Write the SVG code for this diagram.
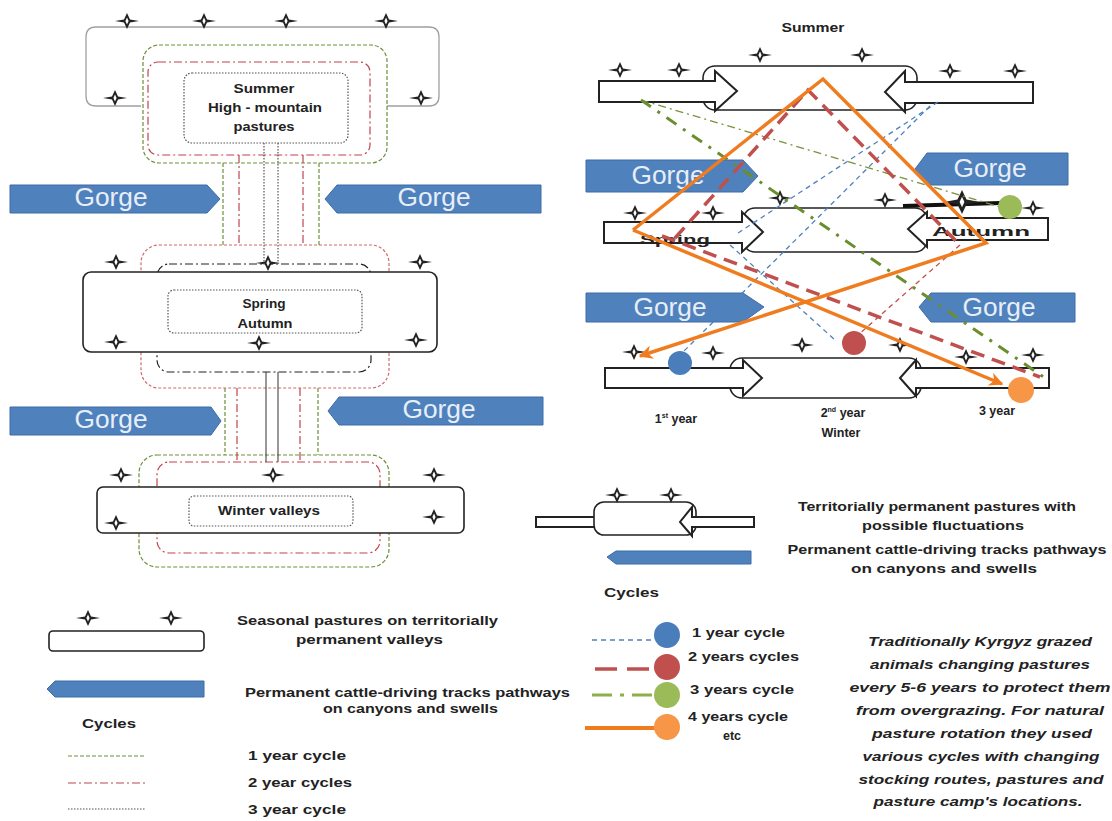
<svg xmlns="http://www.w3.org/2000/svg" xmlns:xlink="http://www.w3.org/1999/xlink" width="1112" height="821" viewBox="0 0 1112 821">
<style>
.t{font-family:"Liberation Sans",Arial,sans-serif;font-weight:bold;fill:#222;font-size:12.5px}
.it{font-style:italic}
.g{font-family:"Liberation Sans",Arial,sans-serif;font-size:25px;fill:#e8eef7;text-anchor:middle}
.mid{text-anchor:middle}
.gorge{fill:#4f81bd;stroke:#3d6ca6;stroke-width:1}
.box{fill:#fff;stroke:#222;stroke-width:1.6}
.pipe{fill:#fff;stroke:#222;stroke-width:2}
.grn{fill:none;stroke:#6f8f3a;stroke-width:1.2;stroke-dasharray:4 2}
.red{fill:none;stroke:#c0444a;stroke-width:1.2;stroke-dasharray:8 3 2 3}
.reds{fill:none;stroke:#d06a6a;stroke-width:1.2;stroke-dasharray:3 2}
.bdd{fill:none;stroke:#222;stroke-width:1.2;stroke-dasharray:8 3 2 3}
.dot{fill:none;stroke:#555;stroke-width:1.2;stroke-dasharray:1.5 1.5}
.c1{fill:none;stroke:#4f81bd;stroke-width:1.3;stroke-dasharray:5 4}
.c2{fill:none;stroke:#c0504d;stroke-width:3.5;stroke-dasharray:14 8}
.c2t{fill:none;stroke:#c0504d;stroke-width:1.3;stroke-dasharray:5 4}
.c3{fill:none;stroke:#6a8e2e;stroke-width:3;stroke-dasharray:12 8 3 8}
.c3t{fill:none;stroke:#77933c;stroke-width:1.3;stroke-dasharray:8 4 2 4}
.c4{fill:none;stroke:#f07c20;stroke-width:3.5}
</style>
<defs>
<g id="st"><path d="M-12,0 L-3,-1.6 L0,-8 L3,-1.6 L12,0 L3,1.6 L0,8 L-3,1.6 Z" fill="#222"/><path d="M0,-3.5 L1.6,0 L0,3.5 L-1.6,0 Z" fill="#fff"/></g>
<marker id="ao" viewBox="0 0 10 10" refX="9" refY="5" markerWidth="16" markerHeight="14" markerUnits="userSpaceOnUse" orient="auto"><path d="M0,0 L10,5 L0,10 L3,5 Z" fill="#f07c20"/></marker>
</defs>
<rect width="1112" height="821" fill="#fff"/>

<!-- LEFT DIAGRAM -->
<g id="summer-left">
<path d="M141,106 H96 Q86,106 86,96 V37 Q86,27 96,27 H429 Q439,27 439,37 V96 Q439,106 429,106 H387" fill="none" stroke="#a0a0a0" stroke-width="1.3"/>
<rect class="grn" x="143" y="45" width="244" height="118" rx="16"/>
<rect class="red" x="148" y="62" width="222" height="93" rx="10"/>
<rect class="dot" x="184" y="73" width="164" height="70" rx="8"/>
<text class="t mid" x="264" y="93" textLength="61" lengthAdjust="spacingAndGlyphs">Summer</text>
<text class="t mid" x="265" y="112" textLength="114" lengthAdjust="spacingAndGlyphs">High - mountain</text>
<text class="t mid" x="264" y="131" textLength="61" lengthAdjust="spacingAndGlyphs">pastures</text>
<use href="#st" x="127" y="21"/><use href="#st" x="204" y="21"/><use href="#st" x="286" y="21"/><use href="#st" x="386" y="21"/>
<use href="#st" x="115" y="98"/><use href="#st" x="421" y="98"/>
</g>

<g id="spring-autumn-left">
<rect class="reds" x="141" y="245" width="248" height="143" rx="18"/>
<rect class="bdd" x="157" y="264" width="214" height="108" rx="12"/>
<rect class="box" x="83" y="272" width="354" height="80" rx="8"/>
<rect class="dot" x="168" y="290" width="194" height="43" rx="6"/>
<text class="t mid" x="264" y="308" textLength="43" lengthAdjust="spacingAndGlyphs">Spring</text>
<text class="t mid" x="265" y="328" textLength="55" lengthAdjust="spacingAndGlyphs">Autumn</text>
<use href="#st" x="116" y="262"/><use href="#st" x="268" y="263"/><use href="#st" x="420" y="262"/>
<use href="#st" x="116" y="342"/><use href="#st" x="259" y="343"/><use href="#st" x="416" y="340"/>
</g>

<g id="winter-left">
<rect class="grn" x="139" y="455" width="250" height="112" rx="18"/>
<rect class="red" x="157" y="462" width="223" height="91" rx="12"/>
<rect class="box" x="97" y="487" width="367" height="46" rx="6"/>
<rect class="dot" x="189" y="496" width="164" height="30" rx="5"/>
<text class="t mid" x="269" y="515" textLength="102" lengthAdjust="spacingAndGlyphs">Winter valleys</text>
<use href="#st" x="121" y="475"/><use href="#st" x="273" y="475"/><use href="#st" x="434" y="475"/>
<use href="#st" x="116" y="523"/><use href="#st" x="434" y="517"/>
</g>

<g id="gorges-left">
<polygon class="gorge" points="10,185 207,185 220,199 207,213 10,213"/>
<text class="g" x="111" y="206" textLength="73" lengthAdjust="spacingAndGlyphs">Gorge</text>
<polygon class="gorge" points="325,199 337,185 541,185 541,213 337,213"/>
<text class="g" x="434" y="206" textLength="73" lengthAdjust="spacingAndGlyphs">Gorge</text>
<polygon class="gorge" points="10,407 211,407 221,421 211,435 10,435"/>
<text class="g" x="111" y="428" textLength="73" lengthAdjust="spacingAndGlyphs">Gorge</text>
<polygon class="gorge" points="328,411 339,397 543,397 543,425 339,425"/>
<text class="g" x="439" y="418" textLength="73" lengthAdjust="spacingAndGlyphs">Gorge</text>
</g>

<g id="connectors-left">
<line class="grn" x1="223" y1="163" x2="223" y2="245"/>
<line class="grn" x1="319" y1="163" x2="319" y2="245"/>
<line class="red" x1="239" y1="155" x2="239" y2="245"/>
<line class="red" x1="303" y1="155" x2="303" y2="245"/>
<line class="dot" x1="264" y1="143" x2="264" y2="264" stroke="#222"/>
<line class="dot" x1="278" y1="143" x2="278" y2="264" stroke="#222"/>
<line class="grn" x1="225" y1="388" x2="225" y2="455"/>
<line class="grn" x1="318" y1="388" x2="318" y2="455"/>
<line class="red" x1="237" y1="388" x2="237" y2="462"/>
<line class="red" x1="300" y1="388" x2="300" y2="462"/>
<line x1="266" y1="372" x2="266" y2="462" stroke="#333" stroke-width="1"/>
<line x1="278" y1="372" x2="278" y2="462" stroke="#333" stroke-width="1"/>
</g>

<!-- RIGHT DIAGRAM -->
<g id="row-summer">
<text class="t mid" x="813" y="32" textLength="63" lengthAdjust="spacingAndGlyphs">Summer</text>
<rect class="box" x="703" y="66" width="214" height="44" rx="12"/>
<polygon class="pipe" points="599,81 715,81 715,71 737,91 715,111 715,102 599,102"/>
<polygon class="pipe" points="1033,82 905,82 905,71 885,92 905,112 905,103 1033,103"/>
<use href="#st" x="620" y="70"/><use href="#st" x="679" y="70"/><use href="#st" x="760" y="55"/><use href="#st" x="862" y="55"/><use href="#st" x="950" y="71"/><use href="#st" x="1015" y="71"/>
</g>

<g id="row-spring-autumn">
<rect class="box" x="743" y="208" width="184" height="44" rx="12"/>
<polygon class="pipe" points="604,222 742,222 742,212 763,232 742,252 742,243 604,243"/>
<polygon class="pipe" points="1048,218 927,218 927,212 908,229 927,247 927,240 1048,240"/>
<text class="t" x="640" y="244" font-size="22" textLength="70" lengthAdjust="spacingAndGlyphs">Spring</text>
<text class="t" x="932" y="236" font-size="26" textLength="98" lengthAdjust="spacingAndGlyphs" fill="#111">Autumn</text>
<path d="M903,206 L1000,203" stroke="#111" stroke-width="4"/>
<use href="#st" x="635" y="213"/><use href="#st" x="713" y="213"/><use href="#st" x="780" y="198"/><use href="#st" x="885" y="200"/>
<use href="#st" transform="translate(962,202) scale(1.5)"/>
<use href="#st" x="1033" y="208"/>
</g>

<g id="row-winter">
<rect class="box" x="730" y="358" width="191" height="40" rx="12"/>
<polygon class="pipe" points="605,368 743,368 743,360 762,378 743,396 743,388 605,388"/>
<polygon class="pipe" points="1049,368 916,368 916,360 900,378 916,396 916,388 1049,388"/>
<use href="#st" x="634" y="352"/><use href="#st" x="713" y="353"/><use href="#st" x="802" y="345"/><use href="#st" x="900" y="345"/><use href="#st" x="966" y="357"/><use href="#st" x="1033" y="355"/>
<text class="t mid" x="676" y="423">1<tspan font-size="7" dy="-5">st</tspan><tspan dy="5"> year</tspan></text>
<text class="t mid" x="843" y="417">2<tspan font-size="7" dy="-5">nd</tspan><tspan dy="5"> year</tspan></text>
<text class="t mid" x="841" y="437">Winter</text>
<text class="t mid" x="997" y="415">3 year</text>
</g>

<g id="gorges-right">
<polygon class="gorge" points="586,160 743,160 758,176 743,192 586,192"/>
<text class="g" x="668" y="184" textLength="73" lengthAdjust="spacingAndGlyphs">Gorge</text>
<polygon class="gorge" points="915,169 927,153 1068,153 1068,185 927,185"/>
<text class="g" x="990" y="177" textLength="73" lengthAdjust="spacingAndGlyphs">Gorge</text>
<polygon class="gorge" points="586,293 743,293 764,307 743,322 586,322"/>
<text class="g" x="670" y="316" textLength="73" lengthAdjust="spacingAndGlyphs">Gorge</text>
<polygon class="gorge" points="919,307 931,293 1075,293 1075,322 931,322"/>
<text class="g" x="999" y="316" textLength="73" lengthAdjust="spacingAndGlyphs">Gorge</text>
</g>

<g id="cycles-right">
<path class="c1" d="M938,102 L735,235"/>
<path class="c1" d="M930,106 L683,352"/>
<path class="c1" d="M730,245 L835,340"/>
<path class="c3t" d="M641,100 L1000,207"/>
<path class="c3" d="M641,100 L1045,378"/>
<path class="c2" d="M675,238 L808,90 L960,245"/>
<path class="c2t" d="M960,245 L858,335"/>
<path class="c2" d="M662,236 L1040,377"/>
<path class="c4" d="M633,230 L823,79 L986,243 L640,356" marker-end="url(#ao)"/>
<path class="c4" d="M633,230 L1002,384" marker-end="url(#ao)"/>
</g>
<g id="markers-right">
<circle cx="680" cy="363" r="12" fill="#4a7ebb"/>
<circle cx="854" cy="343" r="12" fill="#c0504d"/>
<circle cx="1010" cy="207" r="12" fill="#9bbb59"/>
<circle cx="1021" cy="390" r="13" fill="#f79646"/>
</g>

<!-- LEGENDS -->
<g id="legend-right-top">
<rect class="pipe" x="536" y="517" width="60" height="10" stroke-width="1.6"/>
<rect class="box" x="594" y="502" width="102" height="33" rx="10"/>
<polygon class="pipe" points="754,517 692,517 692,507 680,522 692,536 692,527 754,527" stroke-width="1.6"/>
<use href="#st" x="617" y="495"/><use href="#st" x="671" y="495"/>
<polygon class="gorge" points="607,557 616,551 751,551 751,564 616,564"/>
<text class="t mid" x="937" y="511" textLength="278" lengthAdjust="spacingAndGlyphs">Territorially permanent pastures with</text>
<text class="t mid" x="943" y="530" textLength="162" lengthAdjust="spacingAndGlyphs">possible fluctuations</text>
<text class="t mid" x="947" y="554" textLength="319" lengthAdjust="spacingAndGlyphs">Permanent cattle-driving tracks pathways</text>
<text class="t mid" x="944" y="573" textLength="186" lengthAdjust="spacingAndGlyphs">on canyons and swells</text>
</g>

<g id="legend-left">
<use href="#st" x="88" y="618"/><use href="#st" x="171" y="618"/>
<rect class="box" x="49" y="631" width="155" height="20" rx="4"/>
<polygon class="gorge" points="47,689 55,681 204,681 204,697 55,697"/>
<text class="t" x="237" y="625" textLength="261" lengthAdjust="spacingAndGlyphs">Seasonal pastures on territorially</text>
<text class="t" x="296" y="644" textLength="147" lengthAdjust="spacingAndGlyphs">permanent valleys</text>
<text class="t" x="245" y="697" textLength="325" lengthAdjust="spacingAndGlyphs">Permanent cattle-driving tracks pathways</text>
<text class="t" x="323" y="713" textLength="175" lengthAdjust="spacingAndGlyphs">on canyons and swells</text>
<text class="t" x="82" y="728" textLength="54" lengthAdjust="spacingAndGlyphs">Cycles</text>
<line class="grn" x1="68" y1="756" x2="145" y2="756"/>
<line class="red" x1="68" y1="783" x2="145" y2="783"/>
<line class="dot" x1="68" y1="809" x2="145" y2="809" stroke="#888"/>
<text class="t" x="248" y="760" textLength="98" lengthAdjust="spacingAndGlyphs">1 year cycle</text>
<text class="t" x="248" y="787" textLength="104" lengthAdjust="spacingAndGlyphs">2 year cycles</text>
<text class="t" x="248" y="814" textLength="98" lengthAdjust="spacingAndGlyphs">3 year cycle</text>
</g>

<g id="legend-right-bottom">
<text class="t" x="604" y="597" textLength="55" lengthAdjust="spacingAndGlyphs">Cycles</text>
<line class="c1" x1="592" y1="640" x2="655" y2="640"/>
<circle cx="667" cy="635" r="13" fill="#4a7ebb"/>
<line x1="595" y1="669" x2="655" y2="669" stroke="#c0504d" stroke-width="3.5" stroke-dasharray="22 10"/>
<circle cx="667" cy="667" r="13" fill="#c0504d"/>
<line x1="592" y1="695" x2="655" y2="695" stroke="#8db04a" stroke-width="3" stroke-dasharray="20 8 4 8"/>
<circle cx="667" cy="695" r="13" fill="#9bbb59"/>
<line x1="585" y1="728" x2="655" y2="728" stroke="#f07c20" stroke-width="4"/>
<circle cx="667" cy="727" r="13" fill="#f79646"/>
<text class="t" x="692" y="637" textLength="93" lengthAdjust="spacingAndGlyphs">1 year cycle</text>
<text class="t" x="688" y="661" textLength="111" lengthAdjust="spacingAndGlyphs">2 years cycles</text>
<text class="t" x="690" y="694" textLength="104" lengthAdjust="spacingAndGlyphs">3 years cycle</text>
<text class="t" x="688" y="721" textLength="100" lengthAdjust="spacingAndGlyphs">4 years cycle</text>
<text class="t mid" x="732" y="740">etc</text>
<text class="t it mid" x="980" y="646" textLength="224" lengthAdjust="spacingAndGlyphs">Traditionally  Kyrgyz grazed</text>
<text class="t it mid" x="980" y="669" textLength="220" lengthAdjust="spacingAndGlyphs">animals changing  pastures</text>
<text class="t it mid" x="980" y="692" textLength="261" lengthAdjust="spacingAndGlyphs">every 5-6 years to protect them</text>
<text class="t it mid" x="980" y="715" textLength="248" lengthAdjust="spacingAndGlyphs">from overgrazing. For natural</text>
<text class="t it mid" x="982" y="738" textLength="220" lengthAdjust="spacingAndGlyphs">pasture  rotation  they used</text>
<text class="t it mid" x="981" y="761" textLength="237" lengthAdjust="spacingAndGlyphs">various cycles with changing</text>
<text class="t it mid" x="981" y="784" textLength="245" lengthAdjust="spacingAndGlyphs">stocking routes, pastures and</text>
<text class="t it mid" x="978" y="806" textLength="209" lengthAdjust="spacingAndGlyphs">pasture  camp's locations.</text>
</g>
</svg>
